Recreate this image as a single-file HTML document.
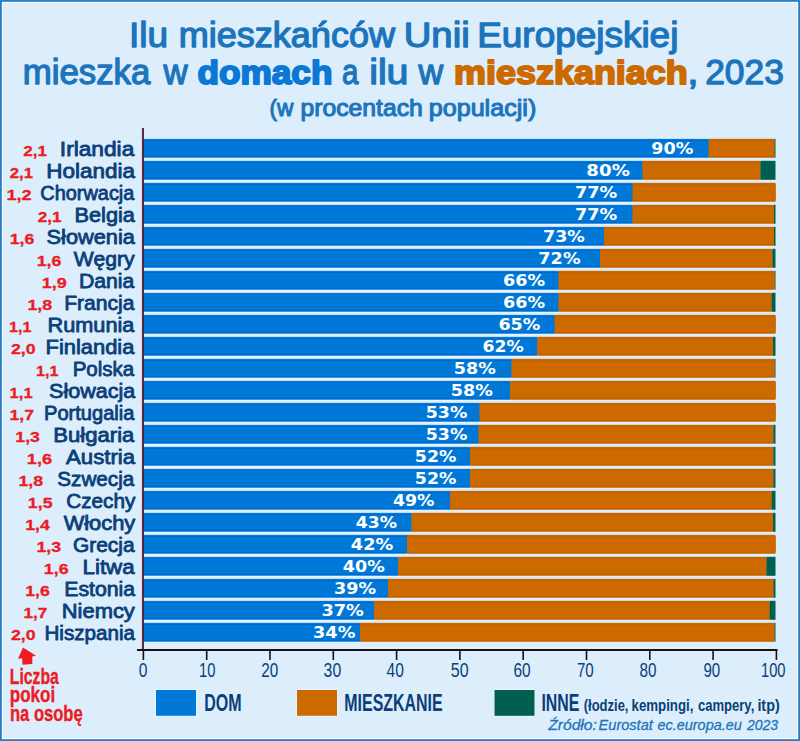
<!DOCTYPE html>
<html lang="pl"><head><meta charset="utf-8"><title>Ilu mieszkańców Unii Europejskiej mieszka w domach a ilu w mieszkaniach, 2023</title>
<style>html,body{margin:0;padding:0;background:#dceefc}svg{display:block}text{font-family:"Liberation Sans",sans-serif;stroke-linejoin:round}.t{font-size:34.8px;fill:#1c75bc;stroke:#1c75bc;stroke-width:1.3px}.tb{font-weight:bold;stroke-width:1.9px;font-size:33.4px}.n{font-size:19.4px;fill:#0a3f7a;stroke:#0a3f7a;stroke-width:0.8px}.v{font-size:14.6px;font-weight:bold;fill:#ed1c24;stroke:#ed1c24;stroke-width:0.3px}.p{font-family:"DejaVu Sans","Liberation Sans",sans-serif;font-weight:bold;font-size:16.6px;fill:#fff}.k{font-size:19.6px;fill:#0a3f7a}.l{font-size:24.4px;font-weight:bold;fill:#0a3f7a}.r{font-size:22.4px;font-weight:bold;fill:#ed1c24;stroke:#ed1c24;stroke-width:0.4px}</style></head><body>
<svg width="800" height="741" viewBox="0 0 800 741">
<rect x="0" y="0" width="800" height="741" fill="#2a7fc3"/><rect x="1.7" y="1.7" width="796.6" height="737.6" fill="#8fc2ea"/>
<rect x="2" y="2" width="796" height="737" fill="#ffffff"/>
<rect x="3" y="3" width="794" height="735" fill="#dceefc"/>
<text id="t1_0" class="t" x="129.03" y="47.30" textLength="39.10" lengthAdjust="spacingAndGlyphs">Ilu</text>
<text id="t1_1" class="t" x="178.71" y="47.30" textLength="216.29" lengthAdjust="spacingAndGlyphs">mieszkańców</text>
<text id="t1_2" class="t" x="403.69" y="47.30" textLength="65.96" lengthAdjust="spacingAndGlyphs">Unii</text>
<text id="t1_3" class="t" x="477.15" y="47.30" textLength="201.25" lengthAdjust="spacingAndGlyphs">Europejskiej</text>
<text id="t2_0" class="t" x="22.81" y="84.30" textLength="127.53" lengthAdjust="spacingAndGlyphs">mieszka</text>
<text id="t2_1" class="t" x="163.44" y="84.30" textLength="24.07" lengthAdjust="spacingAndGlyphs">w</text>
<text id="t3_0" class="t tb" x="197.46" y="84.30" textLength="135.00" lengthAdjust="spacingAndGlyphs" style="fill:#0b78d6;stroke:#0b78d6">domach</text>
<text id="t4_0" class="t" x="341.88" y="84.30" textLength="16.43" lengthAdjust="spacingAndGlyphs">a</text>
<text id="t4_1" class="t" x="369.15" y="84.30" textLength="39.37" lengthAdjust="spacingAndGlyphs">ilu</text>
<text id="t4_2" class="t" x="418.62" y="84.30" textLength="24.67" lengthAdjust="spacingAndGlyphs">w</text>
<text id="t5_0" class="t tb" x="454.11" y="84.30" textLength="233.64" lengthAdjust="spacingAndGlyphs" style="fill:#cc6a00;stroke:#cc6a00">mieszkaniach</text>
<text id="t6_0" class="t" x="687.33" y="84.30" textLength="11.32" lengthAdjust="spacingAndGlyphs">,</text>
<text id="t6_1" class="t" x="705.19" y="84.30" textLength="78.61" lengthAdjust="spacingAndGlyphs">2023</text>
<text id="t7_0" class="t" x="269.62" y="115.80" textLength="23.80" lengthAdjust="spacingAndGlyphs" style="font-size:24px;stroke-width:1.1px">(w</text>
<text id="t7_1" class="t" x="300.48" y="115.80" textLength="122.33" lengthAdjust="spacingAndGlyphs" style="font-size:24px;stroke-width:1.1px">procentach</text>
<text id="t7_2" class="t" x="428.76" y="115.80" textLength="107.50" lengthAdjust="spacingAndGlyphs" style="font-size:24px;stroke-width:1.1px">populacji)</text>
<rect x="143.80" y="137.80" width="564.95" height="21.00" fill="#eaf5fe"/>
<rect x="143.80" y="138.80" width="564.95" height="19.00" fill="#0c80e4"/>
<rect x="143.80" y="139.80" width="564.95" height="17.00" fill="#0067c4"/>
<rect x="143.80" y="140.90" width="564.95" height="14.80" fill="#0078d7"/>
<rect x="708.75" y="138.80" width="65.85" height="19.00" fill="#cc6a00"/>
<rect x="708.75" y="139.80" width="65.85" height="17.00" fill="#c46200"/>
<rect x="708.75" y="140.90" width="65.85" height="14.80" fill="#cc6a00"/>
<rect x="774.60" y="138.80" width="0.90" height="19.00" fill="#005f4e"/>
<text id="p0" class="p" x="651.27" y="153.50" textLength="42.07" lengthAdjust="spacingAndGlyphs">90%</text>
<text id="n0" class="n" x="59.86" y="156.30" textLength="74.40" lengthAdjust="spacingAndGlyphs">Irlandia</text>
<text id="v0" class="v" x="23.25" y="156.20" textLength="23.76" lengthAdjust="spacingAndGlyphs">2,1</text>
<rect x="143.80" y="159.80" width="498.95" height="21.00" fill="#eaf5fe"/>
<rect x="143.80" y="160.80" width="498.95" height="19.00" fill="#0c80e4"/>
<rect x="143.80" y="161.80" width="498.95" height="17.00" fill="#0067c4"/>
<rect x="143.80" y="162.90" width="498.95" height="14.80" fill="#0078d7"/>
<rect x="642.75" y="160.80" width="117.65" height="19.00" fill="#cc6a00"/>
<rect x="642.75" y="161.80" width="117.65" height="17.00" fill="#c46200"/>
<rect x="642.75" y="162.90" width="117.65" height="14.80" fill="#cc6a00"/>
<rect x="760.40" y="160.80" width="15.10" height="19.00" fill="#005f4e"/>
<text id="p1" class="p" x="586.36" y="175.50" textLength="43.48" lengthAdjust="spacingAndGlyphs">80%</text>
<text id="n1" class="n" x="46.22" y="178.30" textLength="88.84" lengthAdjust="spacingAndGlyphs">Holandia</text>
<text id="v1" class="v" x="9.74" y="178.20" textLength="23.25" lengthAdjust="spacingAndGlyphs">2,1</text>
<rect x="143.80" y="181.80" width="488.95" height="21.00" fill="#eaf5fe"/>
<rect x="143.80" y="182.80" width="488.95" height="19.00" fill="#0c80e4"/>
<rect x="143.80" y="183.80" width="488.95" height="17.00" fill="#0067c4"/>
<rect x="143.80" y="184.90" width="488.95" height="14.80" fill="#0078d7"/>
<rect x="632.75" y="182.80" width="142.75" height="19.00" fill="#cc6a00"/>
<rect x="632.75" y="183.80" width="142.75" height="17.00" fill="#c46200"/>
<rect x="632.75" y="184.90" width="142.75" height="14.80" fill="#cc6a00"/>
<text id="p2" class="p" x="574.92" y="197.50" textLength="42.27" lengthAdjust="spacingAndGlyphs">77%</text>
<text id="n2" class="n" x="40.39" y="200.30" textLength="93.98" lengthAdjust="spacingAndGlyphs">Chorwacja</text>
<text id="v2" class="v" x="6.48" y="200.20" textLength="25.26" lengthAdjust="spacingAndGlyphs">1,2</text>
<rect x="143.80" y="203.80" width="488.95" height="21.00" fill="#eaf5fe"/>
<rect x="143.80" y="204.80" width="488.95" height="19.00" fill="#0c80e4"/>
<rect x="143.80" y="205.80" width="488.95" height="17.00" fill="#0067c4"/>
<rect x="143.80" y="206.90" width="488.95" height="14.80" fill="#0078d7"/>
<rect x="632.75" y="204.80" width="141.25" height="19.00" fill="#cc6a00"/>
<rect x="632.75" y="205.80" width="141.25" height="17.00" fill="#c46200"/>
<rect x="632.75" y="206.90" width="141.25" height="14.80" fill="#cc6a00"/>
<rect x="774.00" y="204.80" width="1.50" height="19.00" fill="#005f4e"/>
<text id="p3" class="p" x="574.92" y="219.50" textLength="42.27" lengthAdjust="spacingAndGlyphs">77%</text>
<text id="n3" class="n" x="74.50" y="222.30" textLength="60.44" lengthAdjust="spacingAndGlyphs">Belgia</text>
<text id="v3" class="v" x="37.73" y="222.20" textLength="23.95" lengthAdjust="spacingAndGlyphs">2,1</text>
<rect x="143.80" y="225.80" width="460.20" height="21.00" fill="#eaf5fe"/>
<rect x="143.80" y="226.80" width="460.20" height="19.00" fill="#0c80e4"/>
<rect x="143.80" y="227.80" width="460.20" height="17.00" fill="#0067c4"/>
<rect x="143.80" y="228.90" width="460.20" height="14.80" fill="#0078d7"/>
<rect x="604.00" y="226.80" width="170.00" height="19.00" fill="#cc6a00"/>
<rect x="604.00" y="227.80" width="170.00" height="17.00" fill="#c46200"/>
<rect x="604.00" y="228.90" width="170.00" height="14.80" fill="#cc6a00"/>
<rect x="774.00" y="226.80" width="1.50" height="19.00" fill="#005f4e"/>
<text id="p4" class="p" x="543.01" y="241.50" textLength="41.87" lengthAdjust="spacingAndGlyphs">73%</text>
<text id="n4" class="n" x="46.56" y="244.30" textLength="88.38" lengthAdjust="spacingAndGlyphs">Słowenia</text>
<text id="v4" class="v" x="9.65" y="244.20" textLength="24.65" lengthAdjust="spacingAndGlyphs">1,6</text>
<rect x="143.80" y="247.80" width="456.20" height="21.00" fill="#eaf5fe"/>
<rect x="143.80" y="248.80" width="456.20" height="19.00" fill="#0c80e4"/>
<rect x="143.80" y="249.80" width="456.20" height="17.00" fill="#0067c4"/>
<rect x="143.80" y="250.90" width="456.20" height="14.80" fill="#0078d7"/>
<rect x="600.00" y="248.80" width="172.50" height="19.00" fill="#cc6a00"/>
<rect x="600.00" y="249.80" width="172.50" height="17.00" fill="#c46200"/>
<rect x="600.00" y="250.90" width="172.50" height="14.80" fill="#cc6a00"/>
<rect x="772.50" y="248.80" width="3.00" height="19.00" fill="#005f4e"/>
<text id="p5" class="p" x="538.36" y="263.50" textLength="42.17" lengthAdjust="spacingAndGlyphs">72%</text>
<text id="n5" class="n" x="73.70" y="266.30" textLength="60.94" lengthAdjust="spacingAndGlyphs">Węgry</text>
<text id="v5" class="v" x="36.65" y="266.20" textLength="24.65" lengthAdjust="spacingAndGlyphs">1,6</text>
<rect x="143.80" y="269.80" width="414.95" height="21.00" fill="#eaf5fe"/>
<rect x="143.80" y="270.80" width="414.95" height="19.00" fill="#0c80e4"/>
<rect x="143.80" y="271.80" width="414.95" height="17.00" fill="#0067c4"/>
<rect x="143.80" y="272.90" width="414.95" height="14.80" fill="#0078d7"/>
<rect x="558.75" y="270.80" width="216.05" height="19.00" fill="#cc6a00"/>
<rect x="558.75" y="271.80" width="216.05" height="17.00" fill="#c46200"/>
<rect x="558.75" y="272.90" width="216.05" height="14.80" fill="#cc6a00"/>
<rect x="774.80" y="270.80" width="0.70" height="19.00" fill="#005f4e"/>
<text id="p6" class="p" x="503.14" y="285.50" textLength="42.03" lengthAdjust="spacingAndGlyphs">66%</text>
<text id="n6" class="n" x="78.97" y="288.30" textLength="55.42" lengthAdjust="spacingAndGlyphs">Dania</text>
<text id="v6" class="v" x="41.80" y="288.20" textLength="24.97" lengthAdjust="spacingAndGlyphs">1,9</text>
<rect x="143.80" y="291.80" width="414.95" height="21.00" fill="#eaf5fe"/>
<rect x="143.80" y="292.80" width="414.95" height="19.00" fill="#0c80e4"/>
<rect x="143.80" y="293.80" width="414.95" height="17.00" fill="#0067c4"/>
<rect x="143.80" y="294.90" width="414.95" height="14.80" fill="#0078d7"/>
<rect x="558.75" y="292.80" width="212.95" height="19.00" fill="#cc6a00"/>
<rect x="558.75" y="293.80" width="212.95" height="17.00" fill="#c46200"/>
<rect x="558.75" y="294.90" width="212.95" height="14.80" fill="#cc6a00"/>
<rect x="771.70" y="292.80" width="3.80" height="19.00" fill="#005f4e"/>
<text id="p7" class="p" x="503.14" y="307.50" textLength="42.03" lengthAdjust="spacingAndGlyphs">66%</text>
<text id="n7" class="n" x="64.16" y="310.30" textLength="70.30" lengthAdjust="spacingAndGlyphs">Francja</text>
<text id="v7" class="v" x="27.43" y="310.20" textLength="24.84" lengthAdjust="spacingAndGlyphs">1,8</text>
<rect x="143.80" y="313.80" width="411.00" height="21.00" fill="#eaf5fe"/>
<rect x="143.80" y="314.80" width="411.00" height="19.00" fill="#0c80e4"/>
<rect x="143.80" y="315.80" width="411.00" height="17.00" fill="#0067c4"/>
<rect x="143.80" y="316.90" width="411.00" height="14.80" fill="#0078d7"/>
<rect x="554.80" y="314.80" width="220.70" height="19.00" fill="#cc6a00"/>
<rect x="554.80" y="315.80" width="220.70" height="17.00" fill="#c46200"/>
<rect x="554.80" y="316.90" width="220.70" height="14.80" fill="#cc6a00"/>
<text id="p8" class="p" x="498.41" y="329.50" textLength="41.94" lengthAdjust="spacingAndGlyphs">65%</text>
<text id="n8" class="n" x="47.52" y="332.30" textLength="86.93" lengthAdjust="spacingAndGlyphs">Rumunia</text>
<text id="v8" class="v" x="8.97" y="332.20" textLength="22.50" lengthAdjust="spacingAndGlyphs">1,1</text>
<rect x="143.80" y="335.80" width="393.70" height="21.00" fill="#eaf5fe"/>
<rect x="143.80" y="336.80" width="393.70" height="19.00" fill="#0c80e4"/>
<rect x="143.80" y="337.80" width="393.70" height="17.00" fill="#0067c4"/>
<rect x="143.80" y="338.90" width="393.70" height="14.80" fill="#0078d7"/>
<rect x="537.50" y="336.80" width="235.50" height="19.00" fill="#cc6a00"/>
<rect x="537.50" y="337.80" width="235.50" height="17.00" fill="#c46200"/>
<rect x="537.50" y="338.90" width="235.50" height="14.80" fill="#cc6a00"/>
<rect x="773.00" y="336.80" width="2.50" height="19.00" fill="#005f4e"/>
<text id="p9" class="p" x="482.59" y="351.50" textLength="41.33" lengthAdjust="spacingAndGlyphs">62%</text>
<text id="n9" class="n" x="45.53" y="354.30" textLength="88.85" lengthAdjust="spacingAndGlyphs">Finlandia</text>
<text id="v9" class="v" x="10.93" y="354.20" textLength="24.68" lengthAdjust="spacingAndGlyphs">2,0</text>
<rect x="143.80" y="357.80" width="367.95" height="21.00" fill="#eaf5fe"/>
<rect x="143.80" y="358.80" width="367.95" height="19.00" fill="#0c80e4"/>
<rect x="143.80" y="359.80" width="367.95" height="17.00" fill="#0067c4"/>
<rect x="143.80" y="360.90" width="367.95" height="14.80" fill="#0078d7"/>
<rect x="511.75" y="358.80" width="263.05" height="19.00" fill="#cc6a00"/>
<rect x="511.75" y="359.80" width="263.05" height="17.00" fill="#c46200"/>
<rect x="511.75" y="360.90" width="263.05" height="14.80" fill="#cc6a00"/>
<rect x="774.80" y="358.80" width="0.70" height="19.00" fill="#005f4e"/>
<text id="p10" class="p" x="453.79" y="373.50" textLength="42.06" lengthAdjust="spacingAndGlyphs">58%</text>
<text id="n10" class="n" x="72.66" y="376.30" textLength="61.58" lengthAdjust="spacingAndGlyphs">Polska</text>
<text id="v10" class="v" x="35.97" y="376.20" textLength="22.50" lengthAdjust="spacingAndGlyphs">1,1</text>
<rect x="143.80" y="379.80" width="366.45" height="21.00" fill="#eaf5fe"/>
<rect x="143.80" y="380.80" width="366.45" height="19.00" fill="#0c80e4"/>
<rect x="143.80" y="381.80" width="366.45" height="17.00" fill="#0067c4"/>
<rect x="143.80" y="382.90" width="366.45" height="14.80" fill="#0078d7"/>
<rect x="510.25" y="380.80" width="265.25" height="19.00" fill="#cc6a00"/>
<rect x="510.25" y="381.80" width="265.25" height="17.00" fill="#c46200"/>
<rect x="510.25" y="382.90" width="265.25" height="14.80" fill="#cc6a00"/>
<text id="p11" class="p" x="450.79" y="395.50" textLength="42.06" lengthAdjust="spacingAndGlyphs">58%</text>
<text id="n11" class="n" x="49.07" y="398.30" textLength="86.06" lengthAdjust="spacingAndGlyphs">Słowacja</text>
<text id="v11" class="v" x="9.59" y="398.20" textLength="23.02" lengthAdjust="spacingAndGlyphs">1,1</text>
<rect x="143.80" y="401.80" width="335.95" height="21.00" fill="#eaf5fe"/>
<rect x="143.80" y="402.80" width="335.95" height="19.00" fill="#0c80e4"/>
<rect x="143.80" y="403.80" width="335.95" height="17.00" fill="#0067c4"/>
<rect x="143.80" y="404.90" width="335.95" height="14.80" fill="#0078d7"/>
<rect x="479.75" y="402.80" width="295.75" height="19.00" fill="#cc6a00"/>
<rect x="479.75" y="403.80" width="295.75" height="17.00" fill="#c46200"/>
<rect x="479.75" y="404.90" width="295.75" height="14.80" fill="#cc6a00"/>
<text id="p12" class="p" x="425.74" y="417.50" textLength="41.61" lengthAdjust="spacingAndGlyphs">53%</text>
<text id="n12" class="n" x="43.99" y="420.30" textLength="90.43" lengthAdjust="spacingAndGlyphs">Portugalia</text>
<text id="v12" class="v" x="9.56" y="420.20" textLength="24.52" lengthAdjust="spacingAndGlyphs">1,7</text>
<rect x="143.80" y="423.80" width="334.95" height="21.00" fill="#eaf5fe"/>
<rect x="143.80" y="424.80" width="334.95" height="19.00" fill="#0c80e4"/>
<rect x="143.80" y="425.80" width="334.95" height="17.00" fill="#0067c4"/>
<rect x="143.80" y="426.90" width="334.95" height="14.80" fill="#0078d7"/>
<rect x="478.75" y="424.80" width="294.65" height="19.00" fill="#cc6a00"/>
<rect x="478.75" y="425.80" width="294.65" height="17.00" fill="#c46200"/>
<rect x="478.75" y="426.90" width="294.65" height="14.80" fill="#cc6a00"/>
<rect x="773.40" y="424.80" width="2.10" height="19.00" fill="#005f4e"/>
<text id="p13" class="p" x="425.74" y="439.50" textLength="41.61" lengthAdjust="spacingAndGlyphs">53%</text>
<text id="n13" class="n" x="53.34" y="442.30" textLength="81.00" lengthAdjust="spacingAndGlyphs">Bułgaria</text>
<text id="v13" class="v" x="15.27" y="442.20" textLength="24.66" lengthAdjust="spacingAndGlyphs">1,3</text>
<rect x="143.80" y="445.80" width="326.45" height="21.00" fill="#eaf5fe"/>
<rect x="143.80" y="446.80" width="326.45" height="19.00" fill="#0c80e4"/>
<rect x="143.80" y="447.80" width="326.45" height="17.00" fill="#0067c4"/>
<rect x="143.80" y="448.90" width="326.45" height="14.80" fill="#0078d7"/>
<rect x="470.25" y="446.80" width="303.15" height="19.00" fill="#cc6a00"/>
<rect x="470.25" y="447.80" width="303.15" height="17.00" fill="#c46200"/>
<rect x="470.25" y="448.90" width="303.15" height="14.80" fill="#cc6a00"/>
<rect x="773.40" y="446.80" width="2.10" height="19.00" fill="#005f4e"/>
<text id="p14" class="p" x="414.84" y="461.50" textLength="41.50" lengthAdjust="spacingAndGlyphs">52%</text>
<text id="n14" class="n" x="66.07" y="464.30" textLength="68.95" lengthAdjust="spacingAndGlyphs">Austria</text>
<text id="v14" class="v" x="26.83" y="464.20" textLength="25.35" lengthAdjust="spacingAndGlyphs">1,6</text>
<rect x="143.80" y="467.80" width="326.45" height="21.00" fill="#eaf5fe"/>
<rect x="143.80" y="468.80" width="326.45" height="19.00" fill="#0c80e4"/>
<rect x="143.80" y="469.80" width="326.45" height="17.00" fill="#0067c4"/>
<rect x="143.80" y="470.90" width="326.45" height="14.80" fill="#0078d7"/>
<rect x="470.25" y="468.80" width="303.15" height="19.00" fill="#cc6a00"/>
<rect x="470.25" y="469.80" width="303.15" height="17.00" fill="#c46200"/>
<rect x="470.25" y="470.90" width="303.15" height="14.80" fill="#cc6a00"/>
<rect x="773.40" y="468.80" width="2.10" height="19.00" fill="#005f4e"/>
<text id="p15" class="p" x="414.84" y="483.50" textLength="41.50" lengthAdjust="spacingAndGlyphs">52%</text>
<text id="n15" class="n" x="57.32" y="486.30" textLength="76.98" lengthAdjust="spacingAndGlyphs">Szwecja</text>
<text id="v15" class="v" x="18.43" y="486.20" textLength="24.84" lengthAdjust="spacingAndGlyphs">1,8</text>
<rect x="143.80" y="489.80" width="306.20" height="21.00" fill="#eaf5fe"/>
<rect x="143.80" y="490.80" width="306.20" height="19.00" fill="#0c80e4"/>
<rect x="143.80" y="491.80" width="306.20" height="17.00" fill="#0067c4"/>
<rect x="143.80" y="492.90" width="306.20" height="14.80" fill="#0078d7"/>
<rect x="450.00" y="490.80" width="321.70" height="19.00" fill="#cc6a00"/>
<rect x="450.00" y="491.80" width="321.70" height="17.00" fill="#c46200"/>
<rect x="450.00" y="492.90" width="321.70" height="14.80" fill="#cc6a00"/>
<rect x="771.70" y="490.80" width="3.80" height="19.00" fill="#005f4e"/>
<text id="p16" class="p" x="392.95" y="505.50" textLength="41.53" lengthAdjust="spacingAndGlyphs">49%</text>
<text id="n16" class="n" x="66.25" y="508.30" textLength="69.00" lengthAdjust="spacingAndGlyphs">Czechy</text>
<text id="v16" class="v" x="27.86" y="508.20" textLength="24.63" lengthAdjust="spacingAndGlyphs">1,5</text>
<rect x="143.80" y="511.80" width="267.95" height="21.00" fill="#eaf5fe"/>
<rect x="143.80" y="512.80" width="267.95" height="19.00" fill="#0c80e4"/>
<rect x="143.80" y="513.80" width="267.95" height="17.00" fill="#0067c4"/>
<rect x="143.80" y="514.90" width="267.95" height="14.80" fill="#0078d7"/>
<rect x="411.75" y="512.80" width="361.25" height="19.00" fill="#cc6a00"/>
<rect x="411.75" y="513.80" width="361.25" height="17.00" fill="#c46200"/>
<rect x="411.75" y="514.90" width="361.25" height="14.80" fill="#cc6a00"/>
<rect x="773.00" y="512.80" width="2.50" height="19.00" fill="#005f4e"/>
<text id="p17" class="p" x="355.71" y="527.50" textLength="41.22" lengthAdjust="spacingAndGlyphs">43%</text>
<text id="n17" class="n" x="63.67" y="530.30" textLength="71.57" lengthAdjust="spacingAndGlyphs">Włochy</text>
<text id="v17" class="v" x="25.25" y="530.20" textLength="24.60" lengthAdjust="spacingAndGlyphs">1,4</text>
<rect x="143.80" y="533.80" width="263.20" height="21.00" fill="#eaf5fe"/>
<rect x="143.80" y="534.80" width="263.20" height="19.00" fill="#0c80e4"/>
<rect x="143.80" y="535.80" width="263.20" height="17.00" fill="#0067c4"/>
<rect x="143.80" y="536.90" width="263.20" height="14.80" fill="#0078d7"/>
<rect x="407.00" y="534.80" width="368.50" height="19.00" fill="#cc6a00"/>
<rect x="407.00" y="535.80" width="368.50" height="17.00" fill="#c46200"/>
<rect x="407.00" y="536.90" width="368.50" height="14.80" fill="#cc6a00"/>
<text id="p18" class="p" x="350.86" y="549.50" textLength="42.42" lengthAdjust="spacingAndGlyphs">42%</text>
<text id="n18" class="n" x="72.98" y="552.30" textLength="61.62" lengthAdjust="spacingAndGlyphs">Grecja</text>
<text id="v18" class="v" x="36.46" y="552.20" textLength="24.78" lengthAdjust="spacingAndGlyphs">1,3</text>
<rect x="143.80" y="555.80" width="254.70" height="21.00" fill="#eaf5fe"/>
<rect x="143.80" y="556.80" width="254.70" height="19.00" fill="#0c80e4"/>
<rect x="143.80" y="557.80" width="254.70" height="17.00" fill="#0067c4"/>
<rect x="143.80" y="558.90" width="254.70" height="14.80" fill="#0078d7"/>
<rect x="398.50" y="556.80" width="367.90" height="19.00" fill="#cc6a00"/>
<rect x="398.50" y="557.80" width="367.90" height="17.00" fill="#c46200"/>
<rect x="398.50" y="558.90" width="367.90" height="14.80" fill="#cc6a00"/>
<rect x="766.40" y="556.80" width="9.10" height="19.00" fill="#005f4e"/>
<text id="p19" class="p" x="342.88" y="571.50" textLength="41.98" lengthAdjust="spacingAndGlyphs">40%</text>
<text id="n19" class="n" x="82.52" y="574.30" textLength="52.12" lengthAdjust="spacingAndGlyphs">Litwa</text>
<text id="v19" class="v" x="43.86" y="574.20" textLength="24.63" lengthAdjust="spacingAndGlyphs">1,6</text>
<rect x="143.80" y="577.80" width="244.45" height="21.00" fill="#eaf5fe"/>
<rect x="143.80" y="578.80" width="244.45" height="19.00" fill="#0c80e4"/>
<rect x="143.80" y="579.80" width="244.45" height="17.00" fill="#0067c4"/>
<rect x="143.80" y="580.90" width="244.45" height="14.80" fill="#0078d7"/>
<rect x="388.25" y="578.80" width="385.25" height="19.00" fill="#cc6a00"/>
<rect x="388.25" y="579.80" width="385.25" height="17.00" fill="#c46200"/>
<rect x="388.25" y="580.90" width="385.25" height="14.80" fill="#cc6a00"/>
<rect x="773.50" y="578.80" width="2.00" height="19.00" fill="#005f4e"/>
<text id="p20" class="p" x="334.07" y="593.50" textLength="42.14" lengthAdjust="spacingAndGlyphs">39%</text>
<text id="n20" class="n" x="64.25" y="596.30" textLength="70.86" lengthAdjust="spacingAndGlyphs">Estonia</text>
<text id="v20" class="v" x="25.28" y="596.20" textLength="24.51" lengthAdjust="spacingAndGlyphs">1,6</text>
<rect x="143.80" y="599.80" width="230.45" height="21.00" fill="#eaf5fe"/>
<rect x="143.80" y="600.80" width="230.45" height="19.00" fill="#0c80e4"/>
<rect x="143.80" y="601.80" width="230.45" height="17.00" fill="#0067c4"/>
<rect x="143.80" y="602.90" width="230.45" height="14.80" fill="#0078d7"/>
<rect x="374.25" y="600.80" width="395.35" height="19.00" fill="#cc6a00"/>
<rect x="374.25" y="601.80" width="395.35" height="17.00" fill="#c46200"/>
<rect x="374.25" y="602.90" width="395.35" height="14.80" fill="#cc6a00"/>
<rect x="769.60" y="600.80" width="5.90" height="19.00" fill="#005f4e"/>
<text id="p21" class="p" x="321.42" y="615.50" textLength="42.46" lengthAdjust="spacingAndGlyphs">37%</text>
<text id="n21" class="n" x="61.79" y="618.30" textLength="73.01" lengthAdjust="spacingAndGlyphs">Niemcy</text>
<text id="v21" class="v" x="23.54" y="618.20" textLength="23.84" lengthAdjust="spacingAndGlyphs">1,7</text>
<rect x="143.80" y="621.80" width="216.20" height="21.00" fill="#eaf5fe"/>
<rect x="143.80" y="622.80" width="216.20" height="19.00" fill="#0c80e4"/>
<rect x="143.80" y="623.80" width="216.20" height="17.00" fill="#0067c4"/>
<rect x="143.80" y="624.90" width="216.20" height="14.80" fill="#0078d7"/>
<rect x="360.00" y="622.80" width="414.50" height="19.00" fill="#cc6a00"/>
<rect x="360.00" y="623.80" width="414.50" height="17.00" fill="#c46200"/>
<rect x="360.00" y="624.90" width="414.50" height="14.80" fill="#cc6a00"/>
<rect x="774.50" y="622.80" width="1.00" height="19.00" fill="#005f4e"/>
<text id="p22" class="p" x="313.02" y="637.50" textLength="42.33" lengthAdjust="spacingAndGlyphs">34%</text>
<text id="n22" class="n" x="44.48" y="640.30" textLength="90.58" lengthAdjust="spacingAndGlyphs">Hiszpania</text>
<text id="v22" class="v" x="10.93" y="640.20" textLength="24.68" lengthAdjust="spacingAndGlyphs">2,0</text>
<rect x="141.9" y="128" width="1" height="522" fill="#b01830"/>
<rect x="142.7" y="128" width="1.1" height="523" fill="#10102a"/>
<rect x="137" y="649" width="640.5" height="2" fill="#15111a"/>
<rect x="142.60" y="650" width="1.6" height="10" fill="#15111a"/>
<text id="k0" class="k" x="138.72" y="676.80" textLength="8.68" lengthAdjust="spacingAndGlyphs">0</text>
<rect x="205.90" y="650" width="1.6" height="10" fill="#15111a"/>
<text id="k1" class="k" x="199.01" y="676.80" textLength="16.44" lengthAdjust="spacingAndGlyphs">10</text>
<rect x="269.20" y="650" width="1.6" height="10" fill="#15111a"/>
<text id="k2" class="k" x="261.13" y="676.80" textLength="17.01" lengthAdjust="spacingAndGlyphs">20</text>
<rect x="332.50" y="650" width="1.6" height="10" fill="#15111a"/>
<text id="k3" class="k" x="323.61" y="676.80" textLength="17.57" lengthAdjust="spacingAndGlyphs">30</text>
<rect x="395.80" y="650" width="1.6" height="10" fill="#15111a"/>
<text id="k4" class="k" x="386.55" y="676.80" textLength="17.29" lengthAdjust="spacingAndGlyphs">40</text>
<rect x="459.10" y="650" width="1.6" height="10" fill="#15111a"/>
<text id="k5" class="k" x="450.81" y="676.80" textLength="17.81" lengthAdjust="spacingAndGlyphs">50</text>
<rect x="522.40" y="650" width="1.6" height="10" fill="#15111a"/>
<text id="k6" class="k" x="513.39" y="676.80" textLength="17.14" lengthAdjust="spacingAndGlyphs">60</text>
<rect x="585.70" y="650" width="1.6" height="10" fill="#15111a"/>
<text id="k7" class="k" x="576.94" y="676.80" textLength="16.82" lengthAdjust="spacingAndGlyphs">70</text>
<rect x="649.00" y="650" width="1.6" height="10" fill="#15111a"/>
<text id="k8" class="k" x="639.45" y="676.80" textLength="16.99" lengthAdjust="spacingAndGlyphs">80</text>
<rect x="712.30" y="650" width="1.6" height="10" fill="#15111a"/>
<text id="k9" class="k" x="703.38" y="676.80" textLength="16.79" lengthAdjust="spacingAndGlyphs">90</text>
<rect x="775.60" y="650" width="1.6" height="10" fill="#15111a"/>
<text id="k10" class="k" x="761.01" y="676.80" textLength="24.56" lengthAdjust="spacingAndGlyphs">100</text>
<rect x="155.50" y="689.5" width="41" height="26.8" fill="#f4faff"/>
<rect x="156.00" y="690" width="40" height="25.8" fill="#0078d7"/>
<rect x="296.50" y="689.5" width="41" height="26.8" fill="#f4faff"/>
<rect x="297.00" y="690" width="40" height="25.8" fill="#cc6a00"/>
<rect x="494.00" y="689.5" width="41" height="26.8" fill="#f4faff"/>
<rect x="494.50" y="690" width="40" height="25.8" fill="#005f4e"/>
<text id="l1" class="l" x="204.31" y="710.60" textLength="37.36" lengthAdjust="spacingAndGlyphs">DOM</text>
<text id="l2" class="l" x="344.34" y="710.60" textLength="98.35" lengthAdjust="spacingAndGlyphs">MIESZKANIE</text>
<text id="l3" class="l" x="541.41" y="710.60" textLength="37.95" lengthAdjust="spacingAndGlyphs">INNE</text>
<text id="l4_0" class="l" x="583.76" y="710.60" textLength="44.73" lengthAdjust="spacingAndGlyphs" style="font-size:17.2px">(łodzie,</text>
<text id="l4_1" class="l" x="631.51" y="710.60" textLength="61.94" lengthAdjust="spacingAndGlyphs" style="font-size:17.2px">kempingi,</text>
<text id="l4_2" class="l" x="697.89" y="710.60" textLength="56.40" lengthAdjust="spacingAndGlyphs" style="font-size:17.2px">campery,</text>
<text id="l4_3" class="l" x="757.38" y="710.60" textLength="22.33" lengthAdjust="spacingAndGlyphs" style="font-size:17.2px">itp)</text>
<text id="s1_0" class="k" x="548.27" y="730.30" textLength="48.53" lengthAdjust="spacingAndGlyphs" style="font-size:14.3px;font-style:italic;fill:#1c75bc;stroke:#1c75bc;stroke-width:0.3px">Źródło:</text>
<text id="s1_1" class="k" x="598.62" y="730.30" textLength="54.20" lengthAdjust="spacingAndGlyphs" style="font-size:14.3px;font-style:italic;fill:#1c75bc;stroke:#1c75bc;stroke-width:0.3px">Eurostat</text>
<text id="s1_2" class="k" x="657.51" y="730.30" textLength="84.26" lengthAdjust="spacingAndGlyphs" style="font-size:14.3px;font-style:italic;fill:#1c75bc;stroke:#1c75bc;stroke-width:0.3px">ec.europa.eu</text>
<text id="s1_3" class="k" x="746.95" y="730.30" textLength="31.12" lengthAdjust="spacingAndGlyphs" style="font-size:14.3px;font-style:italic;fill:#1c75bc;stroke:#1c75bc;stroke-width:0.3px">2023</text>
<polygon points="23,647.5 36,655.75 32.3,656.4 32.3,664 22.5,664.8 22.2,658.2 18,658.75" fill="#ed1c24"/>
<text id="r1" class="r" x="9.82" y="683.50" textLength="49.03" lengthAdjust="spacingAndGlyphs">Liczba</text>
<text id="r2" class="r" x="9.81" y="702.30" textLength="45.41" lengthAdjust="spacingAndGlyphs">pokoi</text>
<text id="r3" class="r" x="9.95" y="721.00" textLength="72.77" lengthAdjust="spacingAndGlyphs">na osobę</text>
</svg></body></html>
